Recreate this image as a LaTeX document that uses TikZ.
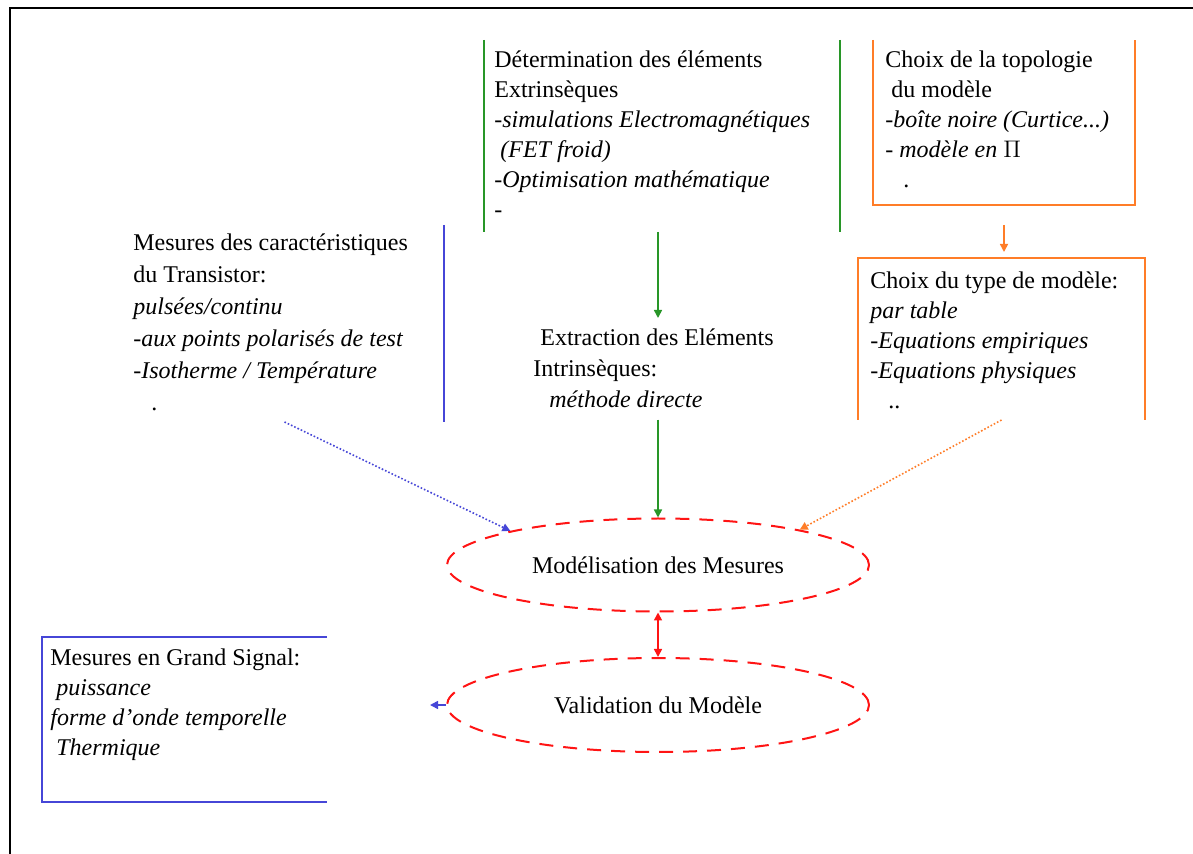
\documentclass[tikz,border=0pt]{standalone}
\usepackage{fontspec}
\setmainfont{Liberation Serif}
\usepackage{xcolor}
\usepackage{tikz}
\usetikzlibrary{positioning,shapes.geometric,arrows.meta}

\definecolor{vertext}{RGB}{40,150,40}
\definecolor{bleumes}{RGB}{70,70,215}
\definecolor{orangemod}{RGB}{255,125,40}
\definecolor{rougeval}{RGB}{255,20,20}

\begin{document}
\begin{tikzpicture}[x=0.5pt,y=-0.5pt,
	boite/.style={rectangle,inner sep=0pt,outer sep=0pt},
	texte/.style={align=left,inner sep=0pt,font=\fontsize{12}{15}\selectfont},
	bord/.style={line width=1pt},
	fleche/.style={line width=0.8pt,-{Triangle[length=4pt,width=4pt]}},
	etape/.style={ellipse,draw=rougeval,line width=1pt,dash pattern=on 7pt off 5pt,minimum width=211pt,inner sep=0pt,font=\fontsize{12}{15}\selectfont}]

	\useasboundingbox (0,0) rectangle (1193,854);
	\draw[line width=1.2pt] (10,854) -- (10,8) -- (1193,8);

	\node[boite,minimum width=178pt,minimum height=96pt] (determ) at (662,136) {};
	\node[boite,minimum width=131pt,minimum height=82.5pt] (choixtopo) at (1004,122.5) {};
	\node[boite,minimum width=159.5pt,minimum height=98.5pt] (mescarac) at (284.5,323.5) {};
	\node[boite,minimum width=143.5pt,minimum height=81pt] (choixtype) at (1001.5,339) {};
	\node[boite,minimum width=142.5pt,minimum height=82.5pt] (mesgs) at (184.5,719.5) {};

	\node[texte,below right=5pt and 5pt of determ.north west] (determtxt) {Détermination des éléments\\ Extrinsèques\\ \textit{-simulations Electromagnétiques}\\ \textit{\ (FET froid)}\\ \textit{-Optimisation mathématique}\\ -};
	\node[texte,below right=5pt and 6pt of choixtopo.north west] (choixtopotxt) {Choix de la topologie\\ \ du modèle\\ \textit{-boîte noire (Curtice...)}\\ \textit{- modèle en $\Pi$}\\ \ \ \ .};
	\node[texte,below right=4pt and 4pt of mescarac.north west,font=\fontsize{12}{16}\selectfont] (mescaractxt) {Mesures des caractéristiques\\ du Transistor:\\ \textit{pulsées/continu}\\ \textit{-aux points polarisés de test}\\ \textit{-Isotherme / Température}\\ \ \ \ .};
	\node[texte,below right=6.5pt and 6pt of choixtype.north west] (choixtypetxt) {Choix du type de modèle:\\ \textit{par table}\\ \textit{-Equations empiriques}\\ \textit{-Equations physiques}\\ \ \ \ ..};
	\node[texte,below right=5.5pt and 4pt of mesgs.north west] (mesgstxt) {Mesures en Grand Signal:\\ \textit{\ puissance}\\ \textit{forme d'onde temporelle}\\ \textit{\ Thermique}};
	\node[texte,anchor=north west,font=\fontsize{12}{15.5}\selectfont] (extrint) at (533,328) {\hspace{3.5pt}Extraction des Eléments\\ Intrinsèques:\\ \hspace{8pt}\textit{méthode directe}};

	\node[etape,minimum height=46.5pt] (modmes) at (658,565) {Modélisation des Mesures};
	\node[etape,minimum height=47pt] (valmod) at (658,705) {Validation du Modèle};
	\coordinate (retour) at (430,705);

	\draw[bord,vertext] (determ.north west) -- (determ.south west) (determ.north east) -- (determ.south east);
	\draw[bord,orangemod] (choixtopo.north west) -- (choixtopo.south west) -- (choixtopo.south east) -- (choixtopo.north east);
	\draw[bord,bleumes] (mescarac.north east) -- (mescarac.south east);
	\draw[bord,orangemod] (choixtype.south west) -- (choixtype.north west) -- (choixtype.north east) -- (choixtype.south east);
	\draw[bord,bleumes] (mesgs.north east) -- (mesgs.north west) -- (mesgs.south west) -- (mesgs.south east);

	\draw[fleche,vertext,shorten >=5pt] (determ.south -| modmes) -- (extrint.north -| modmes);
	\draw[fleche,vertext,shorten <=6pt] (extrint.south -| modmes) -- (modmes.north);
	\draw[fleche,orangemod,shorten <=10pt,shorten >=3pt] (choixtopo.south) -- (choixtopo.south |- choixtype.north);
	\draw[fleche,bleumes,densely dotted] (mescarac.south) -- (modmes.167);
	\draw[fleche,orangemod,densely dotted] (choixtype.south) -- (modmes.14);
	\draw[fleche,rougeval,{Triangle[length=4pt,width=4pt]}-{Triangle[length=4pt,width=4pt]}] (modmes.south) -- (valmod.north);
	\draw[fleche,bleumes] (valmod.west) -- (retour);
\end{tikzpicture}
\end{document}
